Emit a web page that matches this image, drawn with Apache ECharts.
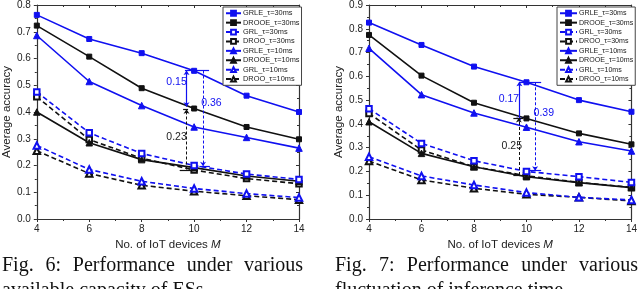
<!DOCTYPE html>
<html>
<head>
<meta charset="utf-8">
<script src="https://cdn.jsdelivr.net/npm/echarts@6/dist/echarts.min.js"></script>
<style>
  html, body { margin: 0; padding: 0; background: #fff; }
  #wrap { position: relative; width: 640px; height: 289px; overflow: hidden; }
  #chart { position: absolute; left: 0; top: 0; width: 640px; height: 289px; }
  .cap { position: absolute; font-family: "Liberation Serif", "Times New Roman", serif; font-size: 20px;
         line-height: 25px; text-align: justify; color: #111; }
</style>
</head>
<body>
<div id="wrap">
  <div id="chart"></div>
  <div class="cap" id="cap6" style="left:2px; top:252px; width:301px;">Fig. 6: Performance under various available capacity of ESs</div>
  <div class="cap" id="cap7" style="left:335px; top:252px; width:303px;">Fig. 7: Performance under various fluctuation of inference time</div>
</div>
<script>
// ---- data ----
const xValues = [4, 6, 8, 10, 12, 14];
const seriesNames = ['GRLE_τ=30ms', 'DROOE_τ=30ms', 'GRL_τ=30ms', 'DROO_τ=30ms',
                     'GRLE_τ=10ms', 'DROOE_τ=10ms', 'GRL_τ=10ms', 'DROO_τ=10ms'];

// Fig. 6
const fig6_GRLE30  = [0.763, 0.673, 0.620, 0.554, 0.461, 0.400];
const fig6_DROOE30 = [0.723, 0.607, 0.489, 0.413, 0.344, 0.298];
const fig6_GRL30   = [0.475, 0.322, 0.245, 0.200, 0.168, 0.148];
const fig6_DROO30  = [0.457, 0.297, 0.227, 0.183, 0.151, 0.132];
const fig6_GRLE10  = [0.686, 0.514, 0.424, 0.344, 0.305, 0.265];
const fig6_DROOE10 = [0.400, 0.285, 0.222, 0.192, 0.161, 0.141];
const fig6_GRL10   = [0.275, 0.185, 0.141, 0.114, 0.095, 0.080];
const fig6_DROO10  = [0.255, 0.170, 0.126, 0.104, 0.087, 0.072];

// Fig. 7
const fig7_GRLE30  = [0.826, 0.732, 0.641, 0.575, 0.500, 0.451];
const fig7_DROOE30 = [0.774, 0.603, 0.489, 0.423, 0.360, 0.314];
const fig7_GRL30   = [0.464, 0.318, 0.245, 0.200, 0.178, 0.154];
const fig7_DROO30  = [0.444, 0.290, 0.220, 0.182, 0.154, 0.133];
const fig7_GRLE10  = [0.718, 0.523, 0.446, 0.386, 0.325, 0.286];
const fig7_DROOE10 = [0.409, 0.276, 0.220, 0.178, 0.153, 0.132];
const fig7_GRL10   = [0.262, 0.181, 0.143, 0.111, 0.091, 0.080];
const fig7_DROO10  = [0.244, 0.164, 0.129, 0.104, 0.091, 0.076];

const xTicks = [4, 6, 8, 10, 12, 14];
const fig6YMax = 0.8;
const fig7YMax = 0.9;

// gap annotations: [x, yStart, yEnd] and labels [text, x, y]
const fig6GapBlue   = [9.71, 0.42, 0.555];
const fig6GapBlack  = [9.71, 0.185, 0.41];
const fig6GapBlueD  = [10.34, 0.555, 0.197];
const fig6Labels    = [['0.15', 9.33, 0.513], ['0.23', 9.33, 0.307], ['0.36', 10.66, 0.432]];
const fig6Caps      = [[0.555, 9.65, 10.57], [0.41, 9.58, 9.77], [0.182, 9.45, 10.0], [0.197, 10.2, 10.6]];

const fig7GapBlue   = [9.73, 0.409, 0.577];
const fig7GapBlack  = [9.71, 0.185, 0.425];
const fig7GapBlueD  = [10.33, 0.575, 0.203];
const fig7Labels    = [['0.17', 9.33, 0.505], ['0.25', 9.44, 0.308], ['0.39', 10.66, 0.446]];
const fig7Caps      = [[0.575, 9.73, 10.56], [0.425, 9.5, 9.88], [0.185, 9.5, 10.05], [0.203, 10.13, 10.56]];

// ---- styles ----
const BLUE = '#1010f0';
const BLACK = '#111111';
const FONT = '"Liberation Sans", Arial, sans-serif';
const styles = [
  {color: BLUE,  type: 'solid',  symbol: 'rect',          size: 5},
  {color: BLACK, type: 'solid',  symbol: 'rect',          size: 5},
  {color: BLUE,  type: [5, 3],   symbol: 'emptyRect',     size: 5.5},
  {color: BLACK, type: [5, 3],   symbol: 'emptyRect',     size: 5.5},
  {color: BLUE,  type: 'solid',  symbol: 'triangle',      size: 6.5},
  {color: BLACK, type: 'solid',  symbol: 'triangle',      size: 6.5},
  {color: BLUE,  type: [5, 3],   symbol: 'emptyTriangle', size: 6.5},
  {color: BLACK, type: [5, 3],   symbol: 'emptyTriangle', size: 6.5}
];

const fig6 = [fig6_GRLE30, fig6_DROOE30, fig6_GRL30, fig6_DROO30, fig6_GRLE10, fig6_DROOE10, fig6_GRL10, fig6_DROO10];
const fig7 = [fig7_GRLE30, fig7_DROOE30, fig7_GRL30, fig7_DROO30, fig7_GRLE10, fig7_DROOE10, fig7_GRL10, fig7_DROO10];

function makeSeries(vals, xi, yi) {
  return vals.map((arr, k) => ({
    name: seriesNames[k],
    type: 'line',
    xAxisIndex: xi, yAxisIndex: yi,
    data: xValues.map((x, i) => [x, arr[i]]),
    symbol: styles[k].symbol,
    symbolSize: styles[k].size,
    showAllSymbol: true,
    lineStyle: {color: styles[k].color, width: 1.6, type: styles[k].type},
    itemStyle: {color: styles[k].color, borderColor: styles[k].color, borderWidth: 1},
    z: 3 + (k % 2 === 0 ? 1 : 0)
  }));
}

function annotationSeries(xi, yi, gBlue, gBlack, gBlueD, labels, caps) {
  const ml = [];
  ml.push([{coord: [gBlue[0], gBlue[1]], symbol: 'arrow', lineStyle: {color: BLUE, type: 'solid', width: 1.2}},
           {coord: [gBlue[0], gBlue[2]], symbol: 'arrow'}]);
  ml.push([{coord: [gBlack[0], gBlack[1]], symbol: 'none', lineStyle: {color: BLACK, type: [3, 2], width: 1}},
           {coord: [gBlack[0], gBlack[2]], symbol: 'arrow'}]);
  ml.push([{coord: [gBlueD[0], gBlueD[1]], symbol: 'none', lineStyle: {color: BLUE, type: [3, 2], width: 1}},
           {coord: [gBlueD[0], gBlueD[2]], symbol: 'arrow'}]);
  caps.forEach((c, i) => {
    const col = (i === 0 || i === 3) ? BLUE : BLACK;
    ml.push([{coord: [c[1], c[0]], symbol: 'none', lineStyle: {color: col, type: 'solid', width: 1.2}},
             {coord: [c[2], c[0]], symbol: 'none'}]);
  });
  return {
    name: 'annot', type: 'line', xAxisIndex: xi, yAxisIndex: yi, data: [],
    silent: true, z: 6,
    markLine: {silent: true, symbolSize: 4.5, label: {show: false}, data: ml, animation: false},
    markPoint: {
      silent: true, animation: false,
      data: labels.map((l, i) => ({
        coord: [l[1], l[2]], symbol: 'rect', symbolSize: 0,
        label: {show: true, position: 'inside', formatter: l[0], fontSize: 10.5, fontFamily: FONT,
                color: i === 1 ? '#222' : BLUE}
      }))
    }
  };
}

function xAxes(gi) {
  const nm = 'No. of IoT devices {i|M}';
  return [
    {gridIndex: gi, type: 'value', min: 4, max: 14, interval: 2, position: 'bottom',
     name: nm, nameLocation: 'middle', nameGap: 15,
     nameTextStyle: {fontSize: 11.5, fontFamily: FONT, color: '#222',
                     rich: {i: {fontStyle: 'italic', fontSize: 11.5, fontFamily: FONT, color: '#222'}}},
     axisLine: {show: true, onZero: false, lineStyle: {color: '#333', width: 1.2}},
     axisTick: {show: true, inside: false, length: 3, lineStyle: {color: '#333'}},
     minorTick: {show: true, splitNumber: 2, length: 2, lineStyle: {color: '#333'}},
     axisLabel: {fontSize: 10, fontFamily: FONT, color: '#222', margin: 5},
     splitLine: {show: false}, minorSplitLine: {show: false}},
    {gridIndex: gi, type: 'value', min: 4, max: 14, interval: 2, position: 'top',
     axisLine: {show: true, onZero: false, lineStyle: {color: '#333', width: 1.2}},
     axisTick: {show: true, inside: true, length: 3, lineStyle: {color: '#333'}},
     minorTick: {show: true, splitNumber: 2, length: 2, lineStyle: {color: '#333'}},
     axisLabel: {show: false}, splitLine: {show: false}}
  ];
}
function yAxes(gi, ymax) {
  return [
    {gridIndex: gi, type: 'value', min: 0, max: ymax, interval: 0.1, position: 'left',
     name: 'Average accuracy', nameLocation: 'middle', nameGap: 20,
     nameTextStyle: {fontSize: 11.5, fontFamily: FONT, color: '#222'},
     axisLine: {show: true, onZero: false, lineStyle: {color: '#333', width: 1.2}},
     axisTick: {show: true, inside: false, length: 3, lineStyle: {color: '#333'}},
     minorTick: {show: true, splitNumber: 2, length: 2, lineStyle: {color: '#333'}},
     axisLabel: {fontSize: 10, fontFamily: FONT, color: '#222', margin: 6,
                 formatter: v => v.toFixed(1)},
     splitLine: {show: false}},
    {gridIndex: gi, type: 'value', min: 0, max: ymax, interval: 0.1, position: 'right',
     axisLine: {show: true, onZero: false, lineStyle: {color: '#333', width: 1.2}},
     axisTick: {show: true, inside: true, length: 3, lineStyle: {color: '#333'}},
     minorTick: {show: true, splitNumber: 2, length: 2, lineStyle: {color: '#333'}},
     axisLabel: {show: false}, splitLine: {show: false}}
  ];
}

function legend(left, top, itemW, fs) {
  return {
    data: seriesNames, orient: 'vertical', left: left, top: top,
    itemWidth: itemW, itemHeight: 6, itemGap: 0.9, padding: [2, 2, 2, 2],
    backgroundColor: '#fff', borderColor: '#444', borderWidth: 1, borderRadius: 0,
    textStyle: {fontSize: fs, lineHeight: 8.5, fontFamily: FONT, color: '#222', padding: [0, 0, 0, -3]},
    selectedMode: false, z: 10
  };
}

const chart = echarts.init(document.getElementById('chart'), null, {renderer: 'canvas'});
chart.setOption({
  animation: false,
  backgroundColor: '#fff',
  grid: [
    {left: 33, top: 5, width: 266, height: 214},
    {left: 369, top: 5, width: 265, height: 214}
  ],
  xAxis: [...xAxes(0), ...xAxes(1)],
  yAxis: [...yAxes(0, fig6YMax), ...yAxes(1, fig7YMax)],
  legend: [legend(223, 7, 15, 7.4), legend(557, 7, 17, 7.1)],
  series: [
    ...makeSeries(fig6, 0, 0),
    annotationSeries(0, 0, fig6GapBlue, fig6GapBlack, fig6GapBlueD, fig6Labels, fig6Caps),
    ...makeSeries(fig7, 2, 2),
    annotationSeries(2, 2, fig7GapBlue, fig7GapBlack, fig7GapBlueD, fig7Labels, fig7Caps)
  ]
});
</script>
</body>
</html>
